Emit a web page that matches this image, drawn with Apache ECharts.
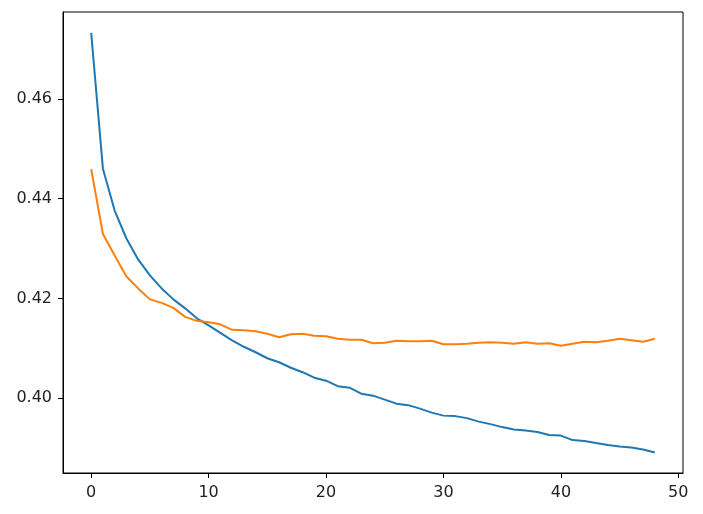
<!DOCTYPE html>
<html>
<head>
<meta charset="utf-8">
<script src="https://cdn.jsdelivr.net/npm/echarts@6/dist/echarts.min.js"></script>
<style>html,body{margin:0;padding:0;background:#fff;}#c{width:703px;height:514px;}</style>
</head>
<body>
<div id="c"></div>
<script>
const epochs = Array.from({length: 49}, (_, i) => i);
const blueSeries = [0.4732, 0.4460, 0.4376, 0.4320, 0.4278, 0.4246, 0.4220, 0.4198, 0.4180, 0.4160,
  0.4146, 0.4131, 0.4116, 0.4103, 0.4092, 0.4080, 0.4072, 0.4061, 0.4052, 0.4041,
  0.4035, 0.4024, 0.4021, 0.4009, 0.4005, 0.3997, 0.3989, 0.3986, 0.3979, 0.3971,
  0.3965, 0.3964, 0.3960, 0.3953, 0.3948, 0.3942, 0.3937, 0.3935, 0.3932, 0.3926,
  0.3925, 0.3916, 0.3914, 0.3910, 0.3906, 0.3903, 0.3901, 0.3897, 0.3891];
const orangeSeries = [0.4459, 0.4329, 0.4286, 0.4244, 0.4220, 0.4198, 0.4191, 0.4181, 0.4163, 0.4155,
  0.4152, 0.4148, 0.4137, 0.4136, 0.4134, 0.4129, 0.4122, 0.4128, 0.4129, 0.4125,
  0.4124, 0.4119, 0.4117, 0.4117, 0.4110, 0.4111, 0.4115, 0.4114, 0.4114, 0.4115,
  0.4108, 0.4108, 0.4109, 0.4111, 0.4112, 0.4111, 0.4109, 0.4112, 0.4109, 0.4110,
  0.4105, 0.4109, 0.4113, 0.4112, 0.4115, 0.4119, 0.4116, 0.4113, 0.4119];
const xTicks = [0, 10, 20, 30, 40, 50];
const yTicks = [0.40, 0.42, 0.44, 0.46];

const chart = echarts.init(document.getElementById('c'), null, {renderer: 'canvas'});
const font = 'DejaVu Sans';
chart.setOption({
  animation: false,
  grid: {left: 63, right: 20, top: 12, bottom: 41, show: true, borderColor: '#000', borderWidth: 1, backgroundColor: '#fff'},
  xAxis: {
    type: 'value', min: -2.4, max: 50.4,
    axisLine: {show: true, onZero: false, lineStyle: {color: '#000', width: 1}},
    splitLine: {show: false},
    axisTick: {show: true, inside: false, length: 5, lineStyle: {color: '#000'}, customValues: xTicks},
    axisLabel: {customValues: xTicks, color: '#222', fontFamily: font, fontSize: 16, margin: 12}
  },
  yAxis: {
    type: 'value', min: 0.385, max: 0.4774,
    axisLine: {show: true, onZero: false, lineStyle: {color: '#000', width: 1}},
    splitLine: {show: false},
    axisTick: {show: true, inside: false, length: 5, lineStyle: {color: '#000'}, customValues: yTicks},
    axisLabel: {customValues: yTicks, color: '#222', fontFamily: font, fontSize: 16, margin: 11,
      formatter: v => v.toFixed(2)}
  },
  series: [
    {type: 'line', data: epochs.map((x, i) => [x, blueSeries[i]]), showSymbol: false, symbol: 'none',
     lineStyle: {color: '#1f77b4', width: 2}, itemStyle: {color: '#1f77b4'}},
    {type: 'line', data: epochs.map((x, i) => [x, orangeSeries[i]]), showSymbol: false, symbol: 'none',
     lineStyle: {color: '#ff7f0e', width: 2}, itemStyle: {color: '#ff7f0e'}}
  ]
});
</script>
</body>
</html>
